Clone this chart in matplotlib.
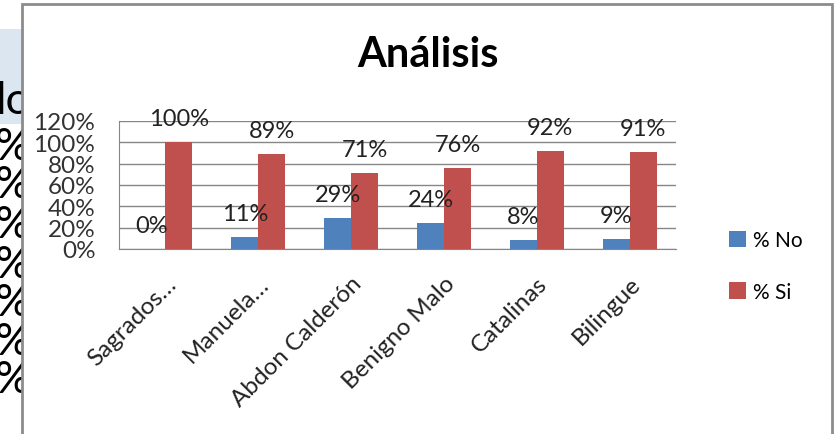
import matplotlib
matplotlib.use("Agg")
import matplotlib.pyplot as plt
from matplotlib.patches import Rectangle
from matplotlib.transforms import Bbox, TransformedBbox

plt.rcParams['font.family'] = ['Lato', 'DejaVu Sans']

categories = ['Sagrados…', 'Manuela…', 'Abdon Calderón', 'Benigno Malo', 'Catalinas', 'Bilingue']
no_vals = [0.00, 0.11, 0.29, 0.24, 0.08, 0.09]
si_vals = [1.00, 0.89, 0.71, 0.76, 0.92, 0.91]
series_names = ['% No', '% Si']
yticks = [0, 0.2, 0.4, 0.6, 0.8, 1.0, 1.2]

W, H = 837, 435
fig = plt.figure(figsize=(W / 100, H / 100), dpi=100)

# spreadsheet bits peeking out at the left of the chart
fig.patches.append(Rectangle((0, 1 - 125 / H), 22 / W, 95 / H, transform=fig.transFigure,
                             facecolor='#dce6f1', edgecolor='none', zorder=-3))
clip = TransformedBbox(Bbox.from_extents(0, 0, 22 / W, 1), fig.transFigure)
t = fig.text(32 / W, 1 - 102 / H, 'lo', fontsize=32, ha='right', va='center', color='black', zorder=-2)
t.set_clip_box(clip)
t.set_clip_on(True)
for yc in [147, 186, 226, 266, 304, 343, 381]:
    t = fig.text(-5 / W, 1 - yc / H, '%', fontsize=32, ha='left', va='center', color='black', zorder=-2)
    t.set_clip_box(clip)
    t.set_clip_on(True)

# chart border
fig.patches.append(Rectangle((22 / W, -0.05), 810 / W, (H - 5) / H + 0.05, transform=fig.transFigure,
                             facecolor='white', edgecolor='#8c8c8c', linewidth=2, zorder=-1))

ax = fig.add_axes([119 / W, 1 - 250 / H, 557 / W, 128 / H])
ax.set_facecolor('none')

x = list(range(len(categories)))
bw = 0.29
b1 = ax.bar([i - bw / 2 for i in x], no_vals, bw, color='#4f81bd', label=series_names[0], zorder=3)
b2 = ax.bar([i + bw / 2 for i in x], si_vals, bw, color='#c0504d', label=series_names[1], zorder=3)

for bars, vals in [(b1, no_vals), (b2, si_vals)]:
    for r, v in zip(bars, vals):
        ax.annotate(f'{v:.0%}', (r.get_x() + r.get_width() / 2, v), xytext=(0, 17),
                    textcoords='offset points', ha='center', va='center', fontsize=17,
                    color='#222222')

ax.set_xlim(-0.5, len(categories) - 0.5)
ax.set_ylim(0, 1.2)
ax.set_yticks(yticks)
ax.set_yticklabels([f'{v:.0%}' for v in yticks], fontsize=17.5, color='#333333')
ax.yaxis.grid(True, color='#868686', linewidth=1)
ax.set_axisbelow(True)
ax.tick_params(axis='y', length=0, pad=17)
ax.set_xticks(x)
ax.set_xticklabels(categories, rotation=45, ha='right', rotation_mode='anchor', fontsize=17.5,
                   color='#222222')
ax.tick_params(axis='x', length=0, pad=17)
for s in ['top', 'right']:
    ax.spines[s].set_visible(False)
for s in ['left', 'bottom']:
    ax.spines[s].set_color('#868686')

fig.text(428 / W, 1 - 55 / H, 'Análisis', fontsize=30, fontweight='bold', ha='center', va='center')

leg = fig.legend(handles=[b1, b2], loc='center left', bbox_to_anchor=(710 / W, 1 - 267 / H),
                 frameon=False, fontsize=15, handlelength=0.85, handleheight=0.85,
                 handletextpad=0.3, labelspacing=1.5)

fig.savefig('out.png', dpi=100)
